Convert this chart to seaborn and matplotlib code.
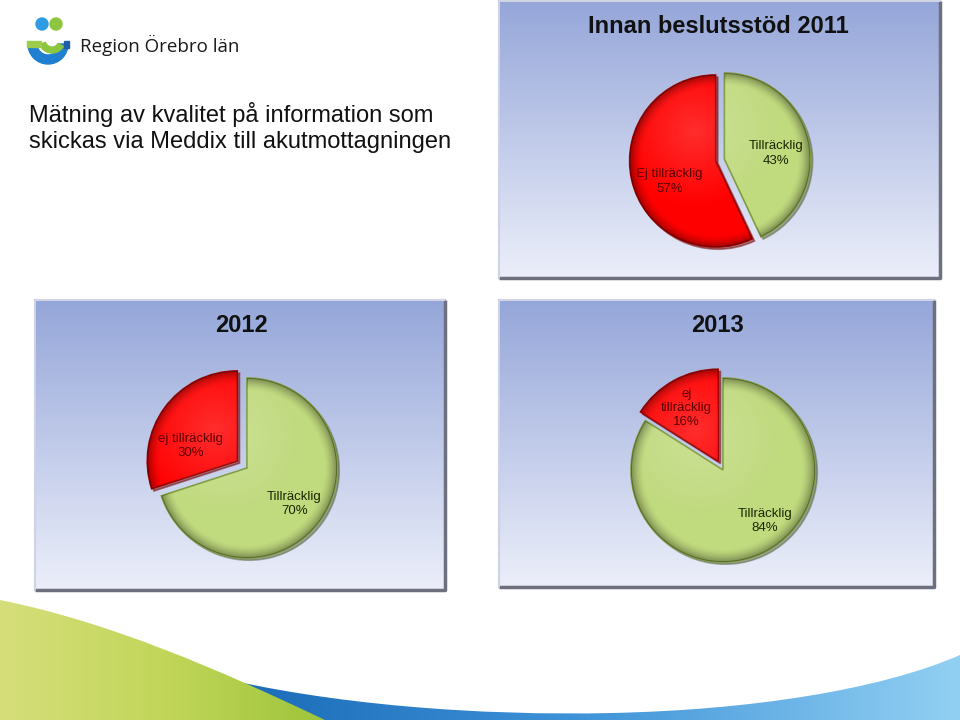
import numpy as np
import matplotlib
matplotlib.use("Agg")
import matplotlib.pyplot as plt
import seaborn as sns
from matplotlib.patches import Rectangle, PathPatch, Circle, Wedge
from matplotlib.path import Path
from matplotlib.colors import LinearSegmentedColormap

sns.set_theme(style="white")
plt.rcParams["font.family"] = ["Liberation Sans", "DejaVu Sans"]

# ---------------- data ----------------
labels_2011 = ["Tillräcklig", "Ej tillräcklig"]
values_2011 = [43, 57]
labels_2012 = ["Tillräcklig", "ej tillräcklig"]
values_2012 = [70, 30]
labels_2013 = ["Tillräcklig", "ej\ntillräcklig"]
values_2013 = [84, 16]
panel_titles = ["Innan beslutsstöd 2011", "2012", "2013"]
heading_lines = ["Mätning av kvalitet på information som",
                 "skickas via Meddix till akutmottagningen"]
org_name = "Region Örebro län"

# ---------------- style ----------------
GREEN = "#c0da7e"
RED = "#ff0000"
GREEN_EDGE = "#7f9c3c"
RED_EDGE = "#a00000"
GREEN_TXT = "#1a2600"
RED_TXT = "#5a0000"
PANEL_TOP = "#95a6d9"
PANEL_BOT = "#eceffa"

W, H = 960, 720
fig = plt.figure(figsize=(9.6, 7.2), dpi=100)
fig.patch.set_facecolor("white")
ax = fig.add_axes([0, 0, 1, 1])


def Y(y):
    return H - y


def gradient_fill(x0, x1, y0, y1, colors, horizontal=False, clip=None, zorder=1):
    cmap = LinearSegmentedColormap.from_list("g", colors)
    g = np.linspace(0, 1, 256)
    arr = g[None, :] if horizontal else g[:, None]
    im = ax.imshow(arr, extent=(x0, x1, Y(y1), Y(y0)), cmap=cmap,
                   aspect="auto", origin="upper", zorder=zorder,
                   interpolation="bilinear")
    if clip is not None:
        im.set_clip_path(clip)
    return im


def panel(x0, y0, x1, y1):
    gradient_fill(x0, x1, y0, y1, [PANEL_TOP, PANEL_BOT], zorder=0.5)
    ax.add_patch(Rectangle((x0, Y(y1)), x1 - x0, y1 - y0, fill=False,
                           edgecolor="#a8aab8", linewidth=1.5, zorder=0.6))
    ax.plot([x1, x1, x0], [Y(y0), Y(y1), Y(y1)], color="#6e7080",
            linewidth=2.5, zorder=0.7, solid_capstyle="butt")
    ax.plot([x0, x0, x1], [Y(y1), Y(y0), Y(y0)], color="#d8dcec",
            linewidth=1.2, zorder=0.7)


def shade_wedge(w):
    # 3D-like rim shading clipped to the wedge
    cx, cy = w.center
    r = w.r
    n = 200
    xs = np.linspace(-1, 1, n)
    xx, yy = np.meshgrid(xs, xs[::-1])
    d = np.sqrt(xx ** 2 + yy ** 2)
    rgba = np.zeros((n, n, 4))
    rim = np.clip((d - 0.86) / 0.14, 0, 1) ** 1.6
    rgba[..., 3] = rim * 0.35
    im = ax.imshow(rgba, extent=(cx - r, cx + r, cy - r, cy + r),
                   zorder=3.2, interpolation="bilinear")
    im.set_clip_path(w)
    hl = np.zeros((n, n, 4))
    hl[..., :3] = 1.0
    hl[..., 3] = np.clip(1 - np.sqrt((xx + 0.25) ** 2 + (yy - 0.35) ** 2) / 0.9, 0, 1) * 0.18
    im2 = ax.imshow(hl, extent=(cx - r, cx + r, cy - r, cy + r),
                    zorder=3.1, interpolation="bilinear")
    im2.set_clip_path(w)


def draw_pie(values, labels, center, r, explode, pctd, nudges):
    cx, cy = center
    wedges, _, autotexts = ax.pie(
        values, colors=[GREEN, RED], startangle=90, counterclock=False,
        center=(cx, Y(cy)), radius=r, explode=explode,
        autopct=lambda p: "", pctdistance=pctd, frame=True,
        wedgeprops=dict(linewidth=1.2, zorder=3),
        shadow={"ox": 1.6, "oy": -1.6, "shade": 0.55})
    for w, ec in zip(wedges, [GREEN_EDGE, RED_EDGE]):
        w.set_edgecolor(ec)
        shade_wedge(w)
    for t, lab, v, col, (dx, dy) in zip(autotexts, labels, values,
                                        [GREEN_TXT, RED_TXT], nudges):
        x, y = t.get_position()
        t.set_position((x + dx, y - dy))
        t.set_text(f"{lab}\n{v}%")
        t.set_fontsize(9.5)
        t.set_color(col)
        t.set_ha("center")
        t.set_va("center")
        t.set_linespacing(1.25)
        t.set_zorder(6)


# ---------------- panels ----------------
panel(499, 1, 940, 278)
panel(35, 300, 445, 590)
panel(499, 300, 934, 587)

ax.text(718, Y(33), panel_titles[0], ha="center", va="baseline",
        fontsize=17, fontweight="bold", color="#111111", zorder=5)
ax.text(242, Y(332), panel_titles[1], ha="center", va="baseline",
        fontsize=17, fontweight="bold", color="#111111", zorder=5)
ax.text(718, Y(332), panel_titles[2], ha="center", va="baseline",
        fontsize=17, fontweight="bold", color="#111111", zorder=5)

draw_pie(values_2011, labels_2011, (720, 160), 86, [4.5, 4.5], 0.62,
         [(0, 6), (6, 9)])
draw_pie(values_2012, labels_2012, (247, 468), 90, [0, 12], 0.64,
         [(1, 2), (0, 19)])
draw_pie(values_2013, labels_2013, (723, 470), 92, [0, 10], 0.72,
         [(10, -7), (0, 5)])

# ---------------- heading & logo ----------------
for line, base in zip(heading_lines, [122, 148]):
    ax.text(29, Y(base), line, ha="left", va="baseline", fontsize=17,
            color="#111111", zorder=5)
ax.text(80, Y(52), org_name, ha="left", va="baseline", fontsize=13.5,
        family=["Open Sans", "DejaVu Sans"], color="#1a1a1a", zorder=5)
ax.add_patch(Circle((42, Y(24)), 6, color="#2f9be0", zorder=4))
ax.add_patch(Circle((56, Y(24)), 6, color="#8cc63f", zorder=4))
ax.add_patch(Wedge((48, Y(44)), 20, 180, 360, width=9, color="#1f7fd0", zorder=4))
ax.add_patch(Wedge((52, Y(40)), 13, 200, 330, width=6, color="#8cc63f", zorder=4.1))
ax.add_patch(Rectangle((27, Y(47)), 14, 6, color="#9ccc4a", zorder=4.2))
ax.add_patch(Rectangle((64, Y(48)), 5, 7, color="#1f5fa8", zorder=4))

# ---------------- bottom waves ----------------
blue_pts = [(200, 720), (208, 675), (330, 705), (480, 716), (612, 713),
            (750, 710), (880, 690), (960, 655), (960, 720), (200, 720)]
blue_codes = [Path.MOVETO, Path.LINETO, Path.CURVE4, Path.CURVE4, Path.CURVE4,
              Path.CURVE4, Path.CURVE4, Path.CURVE4, Path.LINETO, Path.CLOSEPOLY]
blue_path = Path([(x, Y(y)) for x, y in blue_pts], blue_codes)
blue_patch = PathPatch(blue_path, facecolor="none", edgecolor="none", zorder=2)
ax.add_patch(blue_patch)
gradient_fill(200, 960, 650, 720, ["#1767b5", "#3f93d8", "#92d0f3"],
              horizontal=True, clip=blue_patch, zorder=2)

green_pts = [(0, 600), (110, 622), (220, 670), (325, 720), (0, 720), (0, 600)]
green_codes = [Path.MOVETO, Path.CURVE4, Path.CURVE4, Path.CURVE4,
               Path.LINETO, Path.CLOSEPOLY]
green_path = Path([(x, Y(y)) for x, y in green_pts], green_codes)
green_patch = PathPatch(green_path, facecolor="none", edgecolor="none", zorder=2.1)
ax.add_patch(green_patch)
gradient_fill(0, 325, 600, 720, ["#d6de7a", "#c2d65a", "#9ec43a"],
              horizontal=True, clip=green_patch, zorder=2.1)

ax.set_xlim(0, W)
ax.set_ylim(0, H)
ax.set_aspect("auto")
ax.axis("off")
fig.savefig("out.png", dpi=100, facecolor="white")
